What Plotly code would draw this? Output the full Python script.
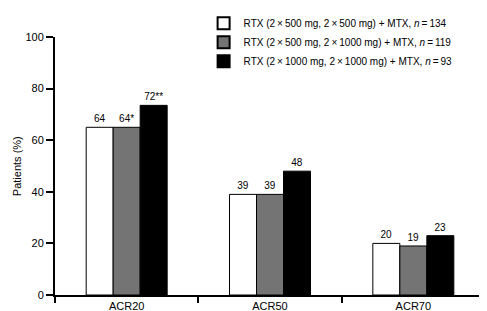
import plotly.graph_objects as go

categories = ["ACR20", "ACR50", "ACR70"]
series_names = [
    "RTX (2\u2009×\u2009500 mg, 2\u2009×\u2009500 mg) + MTX, <i>n</i>\u2009=\u2009134",
    "RTX (2\u2009×\u2009500 mg, 2\u2009×\u20091000 mg) + MTX, <i>n</i>\u2009=\u2009119",
    "RTX (2\u2009×\u20091000 mg, 2\u2009×\u20091000 mg) + MTX, <i>n</i>\u2009=\u200993",
]
low_low = [65, 39, 20]
low_high = [65, 39, 19]
high_high = [73.5, 48, 23]
labels_low_low = ["64", "39", "20"]
labels_low_high = ["64*", "39", "19"]
labels_high_high = ["72**", "48", "23"]
y_ticks = [0, 20, 40, 60, 80, 100]

colors = ["#ffffff", "#747474", "#000000"]
values = [low_low, low_high, high_high]
labels = [labels_low_low, labels_low_high, labels_high_high]

FONT = "Liberation Sans, Arial, Helvetica, sans-serif"

fig = go.Figure()
for name, vals, labs, col in zip(series_names, values, labels, colors):
    fig.add_trace(go.Bar(
        x=categories, y=vals, name=name,
        marker=dict(color=col, line=dict(color="#000000", width=1)),
        text=labs, textposition="outside", cliponaxis=False,
        textfont=dict(size=10, color="#000000", family=FONT),
    ))

# page body has an 8px margin, so the figure is sized 8px smaller
fig.update_layout(
    width=479, height=303,
    margin=dict(l=47, r=2, t=28, b=16),
    paper_bgcolor="white", plot_bgcolor="white",
    barmode="group", bargap=0.435, bargroupgap=0,
    font=dict(family=FONT, size=11, color="#000000"),
    showlegend=True,
    legend=dict(
        x=0.3456, y=1.105, xanchor="left", yanchor="top",
        bgcolor="rgba(0,0,0,0)", borderwidth=0,
        font=dict(size=10, family=FONT, color="#000000"),
        tracegroupgap=0, itemsizing="constant",
    ),
    xaxis=dict(
        range=[-0.5, 2.5], showline=True, linecolor="#000000", linewidth=2,
        ticks="outside", tickson="boundaries", ticklen=6, tickwidth=2, tickcolor="#000000",
        showgrid=False, zeroline=False, automargin=False,
        tickfont=dict(size=11, family=FONT),
    ),
    yaxis=dict(
        range=[0, 100], tickvals=y_ticks, showline=True, linecolor="#000000", linewidth=2,
        ticks="outside", ticklen=7, tickwidth=2, tickcolor="#000000",
        showgrid=False, zeroline=False, automargin=False,
        tickfont=dict(size=11, family=FONT),
    ),
    annotations=[dict(
        text="Patients (%)", xref="paper", yref="paper", x=-0.088, y=0.5,
        textangle=-90, showarrow=False, xanchor="center", yanchor="middle",
        font=dict(size=11, family=FONT, color="#000000"),
    )],
)

fig.write_html("out.html")
